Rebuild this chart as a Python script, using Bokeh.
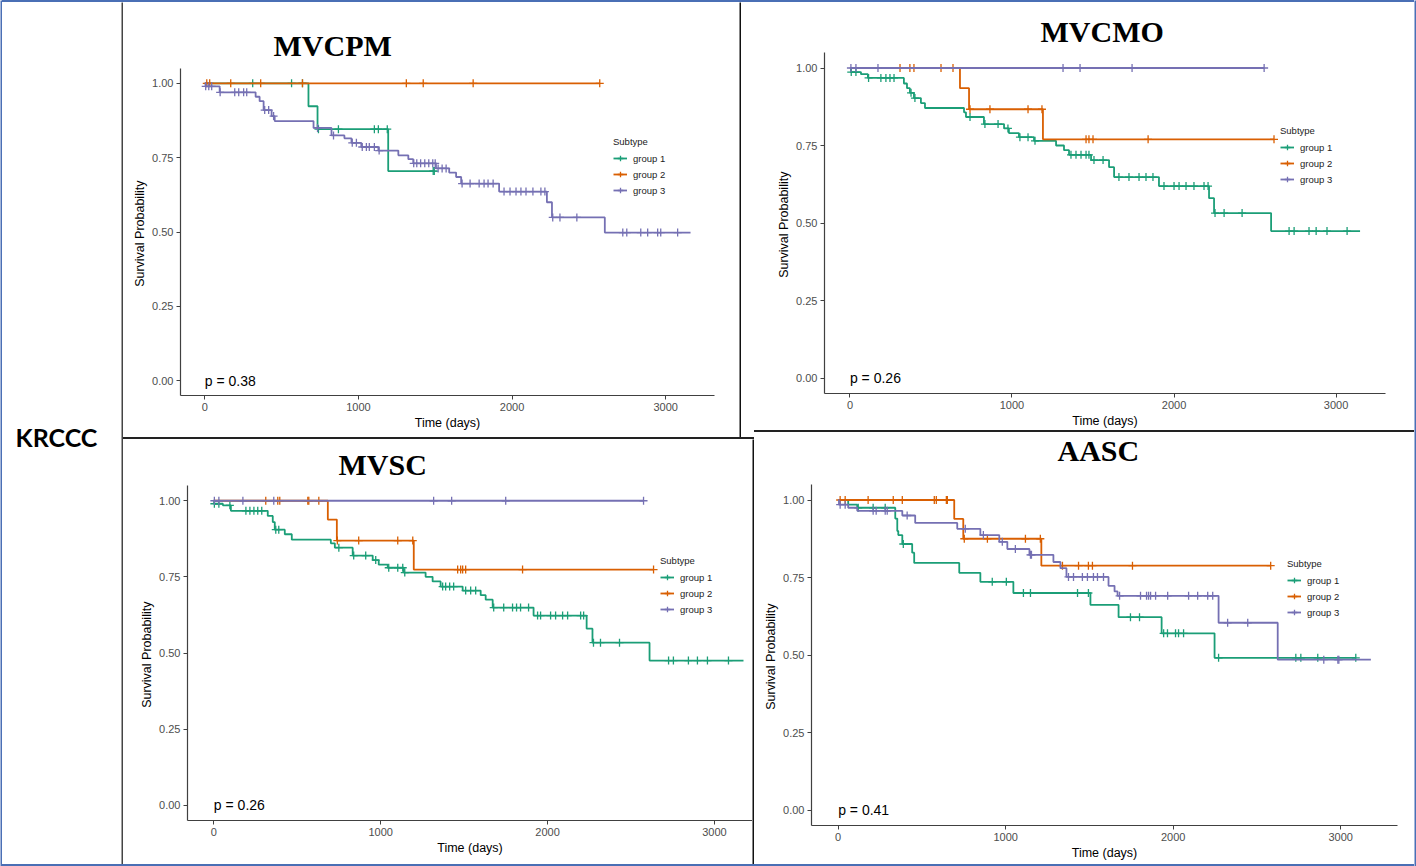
from bokeh.plotting import figure
from bokeh.layouts import row, column
from bokeh.models import (Range1d, FixedTicker, PrintfTickFormatter, Legend, LegendItem,
                          Spacer)
from bokeh.core.properties import value
from bokeh.embed import file_html
from bokeh.resources import INLINE

# ---------------- data (time in days, survival probability) ----------------
groups = ["group 1", "group 2", "group 3"]
x_ticks = [0, 1000, 2000, 3000]
y_ticks = [0.0, 0.25, 0.5, 0.75, 1.0]
panel_titles = ["MVCPM", "MVCMO", "MVSC", "AASC"]
p_values = ["p = 0.38", "p = 0.26", "p = 0.26", "p = 0.41"]
row_label = "KRCCC"

# MVCPM
p1_g1_t = [675, 734, 1194]
p1_g1_s = [0.923, 0.846, 0.705]
p1_g1_end = 1494
p1_g1_c = [312, 565, 636, 740, 870, 1104, 1130, 1188, 1487, 1494]
p1_g2_t = []
p1_g2_s = []
p1_g2_end = 2571
p1_g2_c = [13, 32, 169, 364, 636, 1312, 1422, 1747, 2571]
p1_g3_t = [5, 97, 331, 357, 383, 435, 455, 708, 825, 909, 955, 1019, 1130, 1260, 1325,
           1357, 1505, 1591, 1636, 1669, 1916, 2227, 2260, 2604]
p1_g3_s = [0.99, 0.97, 0.955, 0.94, 0.91, 0.89, 0.873, 0.85, 0.825, 0.815, 0.80, 0.786,
           0.774, 0.758, 0.745, 0.731, 0.714, 0.70, 0.685, 0.663, 0.636, 0.60, 0.549, 0.498]
p1_g3_end = 3162
p1_g3_c = [6, 26, 45, 100, 195, 221, 253, 273, 390, 416, 448, 734, 838, 960, 987, 1025,
           1052, 1071, 1104, 1135, 1360, 1380, 1405, 1432, 1458, 1484, 1500, 1519, 1545,
           1571, 1675, 1727, 1786, 1818, 1844, 1877, 1948, 1987, 2026, 2058, 2091, 2136,
           2188, 2214, 2265, 2312, 2422, 2721, 2747, 2838, 2883, 2948, 2968, 3078]

# MVCMO
p2_g1_t = [6, 68, 111, 333, 352, 370, 395, 438, 463, 704, 716, 827, 951, 981, 1043, 1136,
           1272, 1321, 1352, 1488, 1599, 1630, 1907, 2216, 2247, 2599]
p2_g1_s = [0.987, 0.98, 0.968, 0.95, 0.935, 0.92, 0.903, 0.887, 0.871, 0.857, 0.842, 0.819,
           0.805, 0.79, 0.777, 0.765, 0.75, 0.735, 0.72, 0.703, 0.68, 0.648, 0.619, 0.58,
           0.532, 0.474]
p2_g1_end = 3148
p2_g1_c = [8, 37, 115, 191, 222, 247, 272, 377, 401, 741, 833, 914, 975, 1049, 1099, 1142,
           1364, 1395, 1426, 1457, 1475, 1506, 1562, 1660, 1722, 1784, 1827, 1870, 1938,
           2000, 2031, 2074, 2123, 2185, 2210, 2253, 2309, 2420, 2710, 2741, 2833, 2877,
           2944, 3068]
p2_g2_t = [679, 735, 1191]
p2_g2_s = [0.935, 0.867, 0.77]
p2_g2_end = 2617
p2_g2_c = [309, 370, 395, 562, 636, 741, 864, 1099, 1185, 1457, 1475, 1500, 1840, 2617]
p2_g3_t = []
p2_g3_s = []
p2_g3_end = 2556
p2_g3_c = [6, 37, 173, 1315, 1420, 1741, 2556]

# MVSC
p3_g1_t = [2, 54, 102, 323, 353, 365, 425, 467, 701, 725, 832, 952, 988, 1042, 1138, 1269,
           1311, 1359, 1491, 1599, 1629, 1671, 1916, 2234, 2269, 2611]
p3_g1_s = [0.99, 0.985, 0.967, 0.95, 0.93, 0.905, 0.89, 0.872, 0.86, 0.846, 0.82, 0.805,
           0.79, 0.78, 0.764, 0.75, 0.735, 0.718, 0.705, 0.69, 0.675, 0.649, 0.623, 0.58,
           0.534, 0.475]
p3_g1_end = 3174
p3_g1_c = [3, 30, 96, 192, 216, 240, 263, 287, 371, 389, 749, 838, 910, 970, 1048, 1102,
           1132, 1144, 1371, 1389, 1413, 1437, 1509, 1539, 1569, 1677, 1737, 1790, 1814,
           1838, 1886, 1940, 1958, 2018, 2048, 2090, 2120, 2198, 2216, 2275, 2317, 2431,
           2725, 2754, 2844, 2898, 2958, 3084]
p3_g2_t = [683, 737, 1198]
p3_g2_s = [0.938, 0.869, 0.774]
p3_g2_end = 2635
p3_g2_c = [311, 383, 395, 563, 569, 629, 740, 868, 1102, 1192, 1461, 1479, 1491, 1509,
           1850, 2635]
p3_g3_t = []
p3_g3_s = []
p3_g3_end = 2575
p3_g3_c = [3, 30, 174, 359, 1317, 1425, 1749, 2575]

# AASC
p4_g1_t = [60, 114, 341, 353, 359, 383, 442, 454, 723, 849, 1046, 1506, 1674, 1931, 2247]
p4_g1_s = [0.985, 0.975, 0.94, 0.90, 0.887, 0.858, 0.83, 0.797, 0.765, 0.736, 0.70, 0.662,
           0.622, 0.570, 0.491]
p4_g1_end = 3090
p4_g1_c = [120, 209, 281, 389, 920, 1004, 1106, 1148, 1429, 1494, 1745, 1799, 1943, 1966,
           2014, 2032, 2062, 2271, 2732, 2762, 2863, 3090]
p4_g2_t = [693, 747, 1213]
p4_g2_s = [0.939, 0.875, 0.788]
p4_g2_end = 2582
p4_g2_c = [12, 42, 179, 329, 383, 574, 586, 646, 652, 753, 891, 1118, 1207, 1339, 1435,
           1494, 1518, 1757, 2582]
p4_g3_t = [5, 60, 114, 383, 460, 711, 849, 962, 1010, 1142, 1285, 1327, 1363, 1614, 1650,
           1668, 2271, 2624]
p4_g3_s = [0.985, 0.975, 0.965, 0.95, 0.926, 0.907, 0.887, 0.865, 0.842, 0.823, 0.80, 0.78,
           0.752, 0.723, 0.705, 0.691, 0.604, 0.485]
p4_g3_end = 3180
p4_g3_c = [12, 42, 209, 227, 281, 293, 412, 759, 867, 980, 1058, 1148, 1154, 1375, 1405,
           1458, 1488, 1524, 1548, 1584, 1680, 1805, 1841, 1853, 1865, 1895, 1967, 2092,
           2146, 2206, 2236, 2325, 2445, 2899, 2983, 2989]

# ---------------- styling ----------------
COLORS = ["#1B9E77", "#D95F02", "#7570B3"]
SANS = "Liberation Sans"
SERIF = "Liberation Serif"


def km_path(t, s, end):
    xs = [0] + list(t) + [end]
    ys = [1.0] + list(s) + [s[-1] if len(s) else 1.0]
    return xs, ys


def surv_at(t, s, c):
    v = 1.0
    for ti, si in zip(t, s):
        if ti <= c:
            v = si
    return v


def panel(title, pval, data, width, height, borders, x_range, y_range,
          title_offset, title_standoff, legend_loc, **kw):
    bl, br, bt, bb = borders
    p = figure(width=width, height=height, x_range=Range1d(*x_range),
               y_range=Range1d(*y_range), output_backend="svg", toolbar_location=None,
               min_border_left=bl, min_border_right=br, min_border_top=bt,
               min_border_bottom=bb, x_axis_label="Time (days)",
               y_axis_label="Survival  Probability", **kw)
    p.frame_align = False
    p.outline_line_color = None
    p.xgrid.visible = False
    p.ygrid.visible = False
    p.title.text = title
    p.title.align = "left"
    p.title.offset = title_offset
    p.title.standoff = title_standoff
    p.title.text_font = SERIF
    p.title.text_font_size = "30px"
    p.title.text_font_style = "bold"
    p.title.text_color = "black"

    xa = p.xaxis[0]
    ya = p.yaxis[0]
    xa.ticker = FixedTicker(ticks=x_ticks)
    ya.ticker = FixedTicker(ticks=y_ticks)
    ya.formatter = PrintfTickFormatter(format="%.2f")
    for ax in (xa, ya):
        ax.axis_line_color = "#404040"
        ax.axis_line_width = 1.2
        ax.major_tick_line_color = "#404040"
        ax.major_tick_out = 4
        ax.major_tick_in = 0
        ax.minor_tick_line_color = None
        ax.major_label_text_font = SANS
        ax.major_label_text_font_size = "11px"
        ax.major_label_text_color = "#4D4D4D"
        ax.major_label_standoff = 3
        ax.axis_label_text_font = SANS
        ax.axis_label_text_font_size = "12.5px"
        ax.axis_label_text_font_style = "normal"
        ax.axis_label_text_color = "black"
        ax.axis_label_standoff = 2

    items = []
    for name, col, (t, s, end, c) in zip(groups, COLORS, data):
        xs, ys = km_path(t, s, end)
        r1 = p.step(xs, ys, mode="after", line_color=col, line_width=1.8)
        cy = [surv_at(t, s, ci) for ci in c]
        r2 = p.scatter(c, cy, marker="cross", size=8, line_color=col, line_width=1.3)
        items.append(LegendItem(label=name, renderers=[r1, r2]))

    p.text(x=[0], y=[0], text=[pval], text_align="left", text_baseline="middle",
           text_font=value(SANS), text_font_size="14px", text_color="black")

    leg = Legend(items=items, location=legend_loc, title="Subtype")
    leg.title_text_font = SANS
    leg.title_text_font_size = "9.5px"
    leg.title_text_font_style = "normal"
    leg.title_text_color = "#222222"
    leg.title_standoff = 4
    leg.label_text_font = SANS
    leg.label_text_font_size = "9.5px"
    leg.label_text_color = "#222222"
    leg.glyph_width = 14
    leg.glyph_height = 14
    leg.label_height = 14
    leg.label_standoff = 6
    leg.spacing = 2
    leg.padding = 0
    leg.margin = 0
    leg.border_line_color = None
    leg.background_fill_alpha = 0
    p.add_layout(leg)
    return p


def vbar(w, h, color):
    f = figure(width=w, height=h, output_backend="svg", toolbar_location=None, min_border=0,
               title=None, x_axis_location=None, y_axis_location=None,
               background_fill_color=color, border_fill_color=color,
               outline_line_color=None)
    f.frame_align = False
    f.xgrid.visible = False
    f.ygrid.visible = False
    return f


def hbar(w, h, color, **kw):
    return Spacer(width=w, height=h, styles={"background-color": color}, **kw)


d1 = [(p1_g1_t, p1_g1_s, p1_g1_end, p1_g1_c), (p1_g2_t, p1_g2_s, p1_g2_end, p1_g2_c),
      (p1_g3_t, p1_g3_s, p1_g3_end, p1_g3_c)]
d2 = [(p2_g1_t, p2_g1_s, p2_g1_end, p2_g1_c), (p2_g2_t, p2_g2_s, p2_g2_end, p2_g2_c),
      (p2_g3_t, p2_g3_s, p2_g3_end, p2_g3_c)]
d3 = [(p3_g1_t, p3_g1_s, p3_g1_end, p3_g1_c), (p3_g2_t, p3_g2_s, p3_g2_end, p3_g2_c),
      (p3_g3_t, p3_g3_s, p3_g3_end, p3_g3_c)]
d4 = [(p4_g1_t, p4_g1_s, p4_g1_end, p4_g1_c), (p4_g2_t, p4_g2_s, p4_g2_end, p4_g2_c),
      (p4_g3_t, p4_g3_s, p4_g3_end, p4_g3_c)]

P1 = panel(panel_titles[0], p_values[0], d1, 616, 435, (57, 25, 66, 42),
           (-158, 3318), (-0.05, 1.05), 93, 13, (433, 198))
P2 = panel(panel_titles[1], p_values[1], d2, 673, 435, (83, 29, 50, 44),
           (-157, 3305), (-0.05, 1.05), 216, 10, (456, 207))
P3 = panel(panel_titles[2], p_values[2], d3, 629, 425, (64, 0, 46, 44),
           (-158, 3228), (-0.05, 1.05), 151, 10, (473, 204))
# AASC: figure reaches 30px upward (transparent border) so its title can sit high
P4 = panel(panel_titles[3], p_values[3], d4, 660, 455, (57, 17, 75, 39),
           (-159, 3339), (-0.05, 1.05), 246, 36, (476, 206),
           border_fill_color=None, margin=(-30, 0, 0, 0))

left = figure(width=119, height=862, output_backend="svg", toolbar_location=None,
              min_border=0, title=None, x_axis_location=None, y_axis_location=None,
              x_range=Range1d(2, 121), y_range=Range1d(864, 2), outline_line_color=None)
left.frame_align = False
left.xgrid.visible = False
left.ygrid.visible = False
left.text(x=[56], y=[436], text=[row_label], text_align="center", text_baseline="middle",
          text_font=value("Lato"), text_font_size="25px", text_font_style="bold",
          text_color="black")

BLUE = "#4A6FB5"
right = column(row(P1, vbar(2, 435, "#111111"), P2),
               row(hbar(631, 2, "#222222"),
                   hbar(660, 2, "#222222", margin=(-7, 0, 0, 0))),
               row(P3, vbar(2, 425, "#111111"), P4))
content = row(left, vbar(2, 862, "#444444"), right)
layout = row(vbar(2, 866, BLUE),
             column(hbar(1412, 2, BLUE), content, hbar(1412, 2, BLUE)),
             vbar(2, 866, BLUE))

open("out.html", "w").write(file_html(layout, INLINE, title="KRCCC survival"))
